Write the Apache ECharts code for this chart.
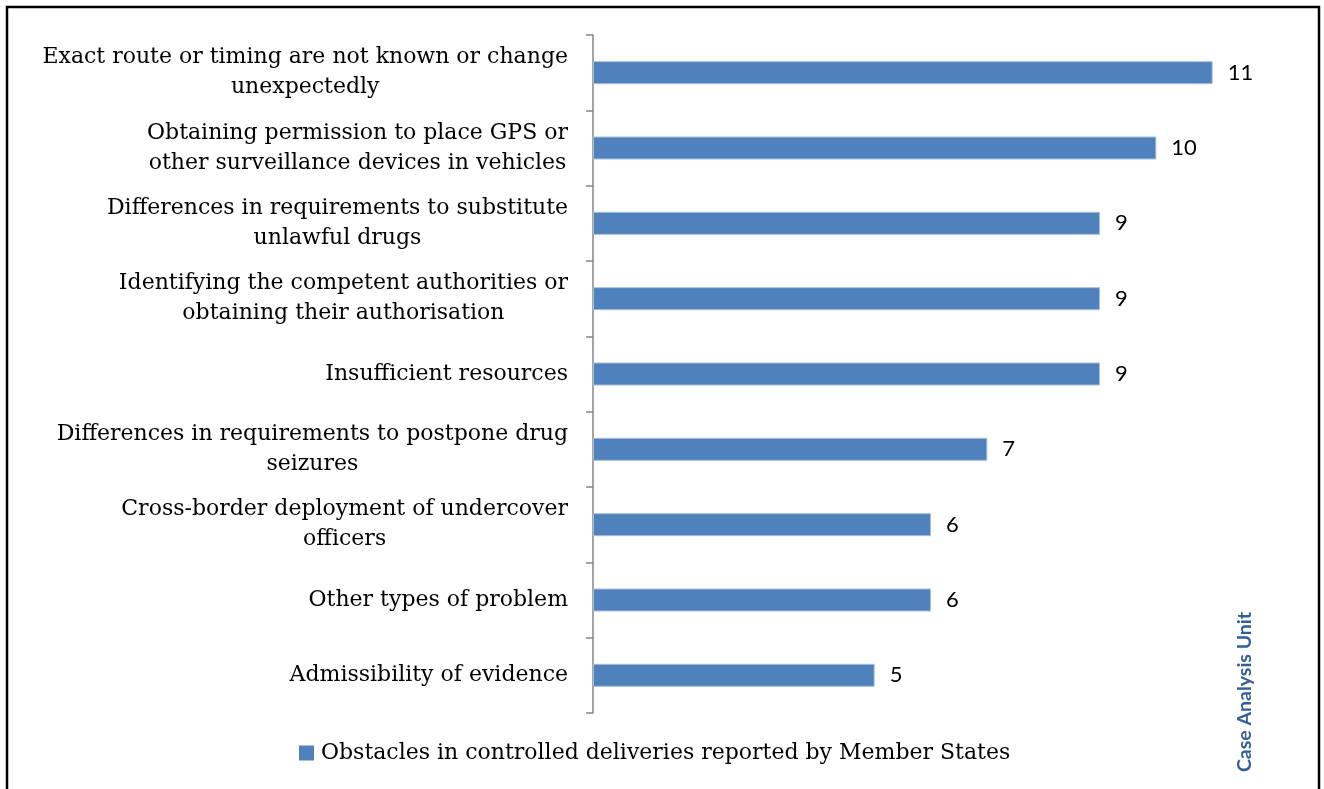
<!DOCTYPE html>
<html><head><meta charset="utf-8">
<script src="https://cdn.jsdelivr.net/npm/echarts@6/dist/echarts.min.js"></script>
<style>html,body{margin:0;padding:0;background:#fff}#c{width:1324px;height:789px}</style>
</head><body><div id="c"></div>
<script>
const categories = [
  'Exact route or timing are not known or change\nunexpectedly',
  'Obtaining permission to place GPS or\nother surveillance devices in vehicles',
  'Differences in requirements to substitute\nunlawful drugs',
  'Identifying the competent authorities or\nobtaining their authorisation',
  'Insufficient resources',
  'Differences in requirements to postpone drug\nseizures',
  'Cross-border deployment of undercover\nofficers',
  'Other types of problem',
  'Admissibility of evidence'
];
const values = [11, 10, 9, 9, 9, 7, 6, 6, 5];
const seriesName = 'Obstacles in controlled deliveries reported by Member States';
const watermark = 'Case Analysis Unit';

const chart = echarts.init(document.getElementById('c'));
chart.setOption({
  animation: false,
  grid: {left: 593, right: 55, top: 35, bottom: 76},
  legend: {
    left: 294, top: 737, itemWidth: 15, itemHeight: 15, itemGap: 6,
    icon: 'rect',
    itemStyle: {borderWidth: 0},
    textStyle: {fontFamily: 'DejaVu Serif', fontSize: 22, color: '#000', padding: [0, 0, 0, 2]},
    data: [seriesName]
  },
  xAxis: {type: 'value', min: 0, max: 12, show: false},
  yAxis: {
    type: 'category', inverse: true, data: categories,
    axisLine: {show: true, lineStyle: {color: '#868686', width: 1.5}},
    axisTick: {show: true, length: 7, lineStyle: {color: '#868686', width: 1.5}},
    axisLabel: {
      margin: 25, fontFamily: 'DejaVu Serif', fontSize: 22, lineHeight: 30, color: '#000', align: 'right',
      formatter: v => v.split('\n').map(l => '{c|' + l + '}').join('\n'),
      rich: {c: {align: 'center', fontFamily: 'DejaVu Serif', fontSize: 22, lineHeight: 30, color: '#000'}}
    }
  },
  series: [{
    name: seriesName, type: 'bar', data: values,
    barWidth: 23,
    itemStyle: {color: '#4F81BD', borderColor: '#A7BFDE', borderWidth: 1},
    label: {show: true, position: 'right', distance: 15, fontFamily: 'Lato', fontSize: 22, color: '#000'}
  }],
  graphic: [
    {type: 'rect', shape: {x: 7, y: 7, width: 1312, height: 800}, style: {fill: 'none', stroke: '#000', lineWidth: 2.5}, z: 100},
    {type: 'text', x: 1245, y: 692, rotation: Math.PI / 2,
     style: {text: watermark, fontFamily: 'Lato', fontWeight: 'bold', fontSize: 19.5, fill: '#335E99', align: 'center', verticalAlign: 'middle'}}
  ]
});
</script></body></html>
